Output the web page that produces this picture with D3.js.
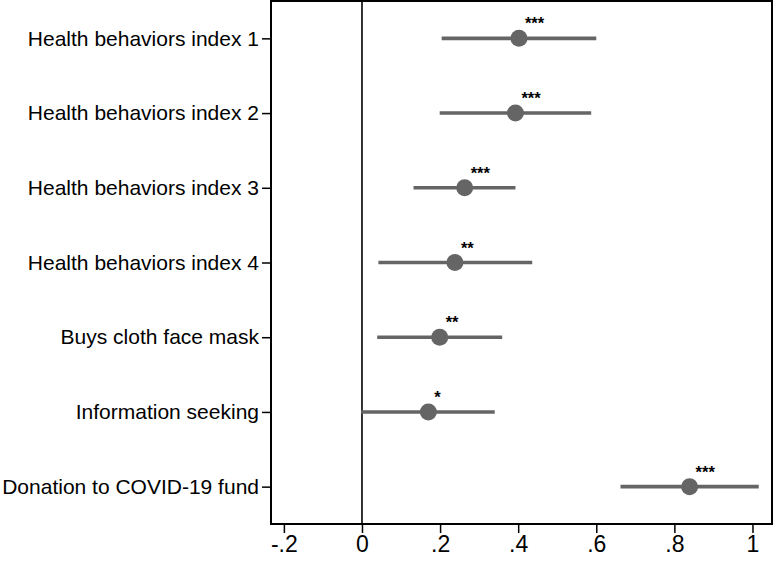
<!DOCTYPE html>
<html>
<head>
<meta charset="utf-8">
<script src="https://cdn.jsdelivr.net/npm/d3@7/dist/d3.min.js"></script>
<style>
  html, body { margin: 0; padding: 0; background: #fff; }
  svg { display: block; font-family: "Liberation Sans", Arial, sans-serif; }
</style>
</head>
<body>
<svg id="chart" width="773" height="561"></svg>
<script>
const categories = [
  "Health behaviors index 1",
  "Health behaviors index 2",
  "Health behaviors index 3",
  "Health behaviors index 4",
  "Buys cloth face mask",
  "Information seeking",
  "Donation to COVID-19 fund"
];
const estimates = [0.402, 0.393, 0.263, 0.238, 0.199, 0.170, 0.839];
const ciLower   = [0.204, 0.199, 0.132, 0.042, 0.039, -0.002, 0.662];
const ciUpper   = [0.600, 0.587, 0.393, 0.436, 0.359, 0.340, 1.016];
const stars     = ["***", "***", "***", "**", "**", "*", "***"];
const xTicks    = [-0.2, 0, 0.2, 0.4, 0.6, 0.8, 1];
const xTickLabels = ["-.2", "0", ".2", ".4", ".6", ".8", "1"];

const svg = d3.select("#chart");
const margin = { left: 271, right: 1, top: 1, bottom: 37 };
const W = 773, H = 561;
const plotW = W - margin.left - margin.right;
const plotH = H - margin.top - margin.bottom;

const x = d3.scaleLinear().domain([-0.233, 1.05]).range([margin.left, W - margin.right]);
const y = d3.scalePoint().domain(categories).range([margin.top, H - margin.bottom]).padding(0.5);

// x axis
const xAxis = svg.append("g")
  .attr("transform", `translate(0,${H - margin.bottom})`)
  .call(d3.axisBottom(x).tickValues(xTicks).tickFormat((d, i) => xTickLabels[i]).tickSize(9).tickPadding(3));
xAxis.select(".domain").remove();
xAxis.selectAll(".tick line").attr("stroke", "#000").attr("stroke-width", 1.5);
xAxis.selectAll(".tick text").attr("fill", "#000").attr("font-size", 23)
  .attr("font-family", "Liberation Sans, Arial, sans-serif");

// y axis
const yAxis = svg.append("g")
  .attr("transform", `translate(${margin.left},0)`)
  .call(d3.axisLeft(y).tickSize(9).tickPadding(3));
yAxis.select(".domain").remove();
yAxis.selectAll(".tick line").attr("stroke", "#000").attr("stroke-width", 1.5);
yAxis.selectAll(".tick text").attr("fill", "#000").attr("font-size", 21)
  .attr("font-family", "Liberation Sans, Arial, sans-serif");

// zero line
svg.append("line")
  .attr("x1", x(0)).attr("x2", x(0))
  .attr("y1", margin.top).attr("y2", H - margin.bottom)
  .attr("stroke", "#000").attr("stroke-width", 1.6);

const rows = categories.map((c, i) => ({ c, est: estimates[i], lo: ciLower[i], hi: ciUpper[i], s: stars[i] }));

svg.append("g").selectAll("line").data(rows).join("line")
  .attr("x1", d => x(d.lo)).attr("x2", d => x(d.hi))
  .attr("y1", d => y(d.c)).attr("y2", d => y(d.c))
  .attr("stroke", "#656565").attr("stroke-width", 3.6);

svg.append("g").selectAll("circle").data(rows).join("circle")
  .attr("cx", d => x(d.est)).attr("cy", d => y(d.c)).attr("r", 8.5)
  .attr("fill", "#656565");

svg.append("g").selectAll("text").data(rows).join("text")
  .attr("x", d => x(d.est) + 6).attr("y", d => y(d.c) - 9)
  .attr("font-size", 16.5).attr("font-weight", "bold")
  .attr("fill", "#000")
  .text(d => d.s);

// frame
svg.append("rect")
  .attr("x", margin.left).attr("y", margin.top)
  .attr("width", plotW).attr("height", plotH)
  .attr("fill", "none").attr("stroke", "#000").attr("stroke-width", 2);
</script>
</body>
</html>
